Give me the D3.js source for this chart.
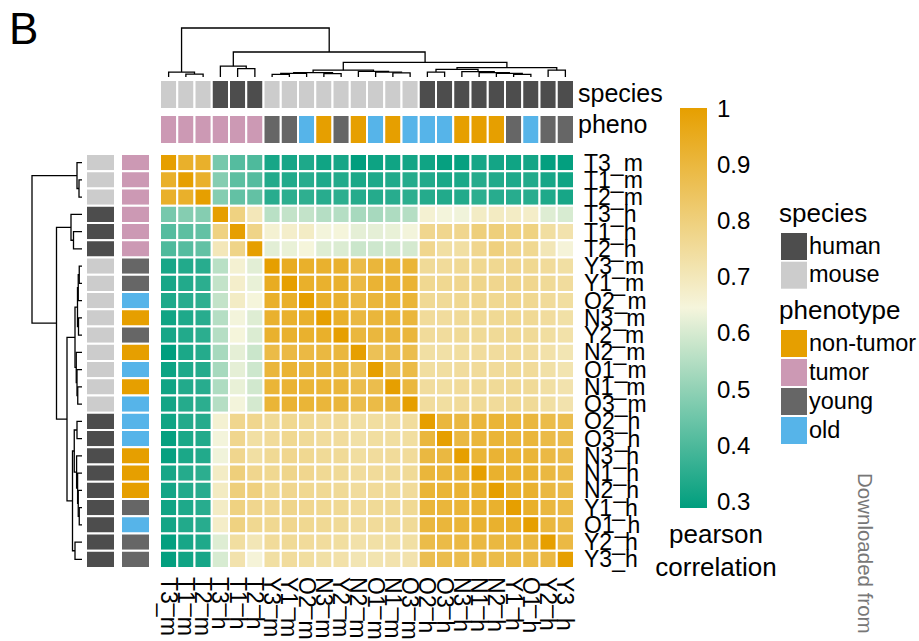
<!DOCTYPE html>
<html><head><meta charset="utf-8">
<script src="https://cdn.jsdelivr.net/npm/d3@7"></script>
<style>
body{margin:0;background:#fff}
svg{display:block}
text{font-family:"Liberation Sans",Arial,Helvetica,sans-serif}
</style>
</head><body>
<svg id="chart" width="919" height="641"></svg>
<script>
// ---------- data ----------
const samples = ["T3_m","T1_m","T2_m","T3_h","T1_h","T2_h","Y3_m","Y1_m","O2_m","N3_m","Y2_m","N2_m","O1_m","N1_m","O3_m","O2_h","O3_h","N3_h","N1_h","N2_h","Y1_h","O1_h","Y2_h","Y3_h"];
const species = ["mouse","mouse","mouse","human","human","human","mouse","mouse","mouse","mouse","mouse","mouse","mouse","mouse","mouse","human","human","human","human","human","human","human","human","human"];
const pheno = ["tumor","tumor","tumor","tumor","tumor","tumor","young","young","old","non-tumor","young","non-tumor","old","non-tumor","old","old","old","non-tumor","non-tumor","non-tumor","young","old","young","young"];

// pearson correlation, rows/cols in the order of `samples`
const corr = [
 [1,.93,.93,.46,.41,.40,.32,.32,.33,.31,.32,.286,.305,.31,.315,.31,.295,.295,.32,.315,.31,.315,.29,.29],
 [.93,1,.93,.48,.42,.41,.335,.335,.345,.33,.335,.325,.33,.335,.34,.335,.325,.325,.34,.335,.33,.335,.32,.31],
 [.93,.93,1,.48,.43,.43,.345,.35,.355,.345,.35,.34,.34,.345,.35,.34,.335,.335,.35,.345,.345,.345,.33,.32],
 [.46,.48,.48,1,.79,.70,.555,.57,.57,.55,.55,.53,.53,.54,.55,.66,.64,.635,.68,.685,.68,.675,.61,.60],
 [.41,.42,.43,.79,1,.78,.66,.67,.68,.64,.645,.62,.62,.625,.64,.77,.77,.77,.80,.80,.79,.79,.74,.72],
 [.40,.41,.43,.70,.78,1,.615,.625,.645,.61,.605,.58,.585,.59,.595,.77,.735,.735,.77,.795,.77,.765,.705,.65],
 [.32,.335,.345,.555,.66,.615,1,.945,.93,.925,.925,.885,.905,.91,.91,.755,.75,.76,.765,.765,.77,.765,.75,.735],
 [.32,.335,.35,.57,.67,.625,.945,1,.93,.925,.925,.89,.915,.915,.915,.765,.765,.77,.775,.77,.775,.77,.755,.745],
 [.33,.345,.355,.57,.68,.645,.93,.93,1,.93,.925,.89,.905,.91,.91,.76,.755,.765,.77,.765,.77,.765,.75,.74],
 [.31,.33,.345,.55,.64,.61,.925,.925,.93,1,.93,.895,.905,.91,.905,.75,.745,.755,.76,.76,.765,.76,.745,.73],
 [.32,.335,.35,.55,.645,.605,.925,.925,.925,.93,1,.90,.90,.905,.905,.75,.745,.755,.755,.755,.76,.755,.74,.725],
 [.286,.325,.34,.53,.62,.58,.885,.89,.89,.895,.90,1,.86,.875,.875,.735,.73,.74,.745,.745,.75,.745,.725,.71],
 [.305,.33,.34,.53,.62,.585,.905,.915,.905,.905,.90,.86,1,.875,.885,.74,.74,.745,.75,.75,.755,.75,.73,.715],
 [.31,.335,.345,.54,.625,.59,.91,.915,.91,.91,.905,.875,.875,1,.90,.745,.74,.75,.755,.755,.76,.755,.735,.72],
 [.315,.34,.35,.55,.64,.595,.91,.915,.91,.905,.905,.875,.885,.90,1,.745,.74,.75,.755,.75,.76,.755,.735,.72],
 [.31,.335,.34,.66,.77,.77,.755,.765,.76,.75,.75,.735,.74,.745,.745,1,.90,.895,.905,.91,.905,.90,.88,.87],
 [.295,.325,.335,.64,.77,.735,.75,.765,.755,.745,.745,.73,.74,.74,.74,.90,1,.895,.905,.91,.905,.905,.885,.875],
 [.295,.325,.335,.635,.77,.735,.76,.77,.765,.755,.755,.74,.745,.75,.75,.895,.895,1,.91,.915,.91,.91,.89,.875],
 [.32,.34,.35,.68,.80,.77,.765,.775,.77,.76,.755,.745,.75,.755,.755,.905,.905,.91,1,.925,.92,.92,.895,.88],
 [.315,.335,.345,.685,.80,.795,.765,.77,.765,.76,.755,.745,.75,.755,.75,.91,.91,.915,.925,1,.925,.925,.895,.88],
 [.31,.33,.345,.68,.79,.77,.77,.775,.77,.765,.76,.75,.755,.76,.76,.905,.905,.91,.92,.925,1,.93,.90,.885],
 [.315,.335,.345,.675,.79,.765,.765,.77,.765,.76,.755,.745,.75,.755,.755,.90,.905,.91,.92,.925,.93,1,.90,.885],
 [.29,.32,.33,.61,.74,.705,.75,.755,.75,.745,.74,.725,.73,.735,.735,.88,.885,.89,.895,.895,.90,.90,1,.89],
 [.29,.31,.32,.60,.72,.65,.735,.745,.74,.73,.725,.71,.715,.72,.72,.87,.875,.875,.88,.88,.885,.885,.89,1]
];

// hierarchical clustering: [left, right, height]; numbers refer to earlier merges
const merges = [
 ["T1_m","T2_m",0.06], ["T3_m",0,0.10],
 ["T1_h","T2_h",0.17], ["T3_h",2,0.22],
 ["Y3_m","Y1_m",0.055], [4,"O2_m",0.075], ["N3_m","Y2_m",0.07], [5,6,0.09],
 ["N1_m","O3_m",0.085], ["O1_m",8,0.10], ["N2_m",9,0.115], [7,10,0.14],
 ["O2_h","O3_h",0.10], ["Y1_h","O1_h",0.055], ["N2_h",13,0.075], ["N1_h",14,0.088],
 ["N3_h",15,0.108], [12,16,0.155], ["Y2_h","Y3_h",0.14], [17,18,0.19],
 [11,19,0.30], [3,20,0.51], [1,21,1.0]
];

const corrRange = [0.286, 1];
const legendTicks = [1, 0.9, 0.8, 0.7, 0.6, 0.5, 0.4, 0.3];
const speciesLevels = ["human","mouse"];
const phenoLevels = ["non-tumor","tumor","young","old"];

// ---------- styles ----------
const speciesColors = {human:"#4D4D4D", mouse:"#CCCCCC"};
const phenoColors = {"non-tumor":"#E69F00", tumor:"#CC99B4", young:"#666666", old:"#56B4E9"};
const color = d3.scaleLinear()
  .domain([corrRange[0], (corrRange[0]+corrRange[1])/2, corrRange[1]])
  .range(["#009E7E","#F5F5DC","#E69F00"])
  .interpolate(d3.interpolateRgb);

const svg = d3.select("#chart");
const x = d3.scaleBand().domain(samples).range([160, 574]);
const y = d3.scaleBand().domain(samples).range([154, 568]);
const bw = x.bandwidth();

// heatmap cells
const cells = [];
corr.forEach((row, i) => row.forEach((v, j) => cells.push({r: samples[i], c: samples[j], v})));
svg.append("g").selectAll("rect").data(cells).join("rect")
  .attr("x", d => x(d.c)).attr("y", d => y(d.r))
  .attr("width", bw).attr("height", bw)
  .attr("fill", d => color(d.v))
  .attr("stroke", "#fff").attr("stroke-width", 2);

// annotation tracks (top)
const topTracks = [{vals: species, cols: speciesColors, y0: 80, name: "species", base: 102},
                   {vals: pheno, cols: phenoColors, y0: 115, name: "pheno", base: 133}];
topTracks.forEach(t => {
  svg.append("g").selectAll("rect").data(samples).join("rect")
    .attr("x", d => x(d)).attr("y", t.y0).attr("width", bw).attr("height", 29)
    .attr("fill", (d, i) => t.cols[t.vals[i]])
    .attr("stroke", "#fff").attr("stroke-width", 2);
  svg.append("text").attr("x", 578).attr("y", t.base).attr("font-size", 25).text(t.name);
});
// annotation tracks (left)
const leftTracks = [{vals: species, cols: speciesColors, x0: 86}, {vals: pheno, cols: phenoColors, x0: 121}];
leftTracks.forEach(t => {
  svg.append("g").selectAll("rect").data(samples).join("rect")
    .attr("y", d => y(d)).attr("x", t.x0).attr("height", bw).attr("width", 29)
    .attr("fill", (d, i) => t.cols[t.vals[i]])
    .attr("stroke", "#fff").attr("stroke-width", 2);
});

// dendrograms
const hTop = d3.scaleLinear().domain([0, 1]).range([77, 28]);
const hLeft = d3.scaleLinear().domain([0, 1]).range([82, 32]);
const nodes = [];
const pos = (ref, sc) => typeof ref === "string" ? {p: sc(ref) + sc.bandwidth()/2, h: 0} : nodes[ref];
function buildPaths(sc) {
  nodes.length = 0;
  const segs = [];
  merges.forEach(m => {
    const a = pos(m[0], sc), b = pos(m[1], sc);
    nodes.push({p: (a.p + b.p) / 2, h: m[2]});
    segs.push({a, b, h: m[2]});
  });
  return segs;
}
const topSegs = buildPaths(x);
svg.append("g").selectAll("path").data(topSegs).join("path")
  .attr("d", s => `M${s.a.p},${hTop(s.a.h)}V${hTop(s.h)}H${s.b.p}V${hTop(s.b.h)}`)
  .attr("fill", "none").attr("stroke", "#000").attr("stroke-width", 1.3);
const leftSegs = buildPaths(y);
svg.append("g").selectAll("path").data(leftSegs).join("path")
  .attr("d", s => `M${hLeft(s.a.h)},${s.a.p}H${hLeft(s.h)}V${s.b.p}H${hLeft(s.b.h)}`)
  .attr("fill", "none").attr("stroke", "#000").attr("stroke-width", 1.3);

// row labels
svg.append("g").selectAll("text").data(samples).join("text")
  .attr("x", 584).attr("y", d => y(d) + bw/2).attr("dy", "0.35em")
  .attr("font-size", 23).text(d => d);
// column labels
svg.append("g").selectAll("text").data(samples).join("text")
  .attr("transform", d => `translate(${x(d) + bw/2},577) rotate(90)`)
  .attr("dy", "0.35em").attr("font-size", 23).text(d => d);

// colour legend
const cb = d3.scaleLinear().domain(corrRange).range([508, 108]);
const defs = svg.append("defs");
const grad = defs.append("linearGradient").attr("id", "cbar")
  .attr("x1", 0).attr("y1", 1).attr("x2", 0).attr("y2", 0);
d3.range(0, 1.0001, 0.05).forEach(t => {
  const v = corrRange[0] + t * (corrRange[1] - corrRange[0]);
  grad.append("stop").attr("offset", t).attr("stop-color", color(v));
});
svg.append("rect").attr("x", 680).attr("y", cb(corrRange[1])).attr("width", 27)
  .attr("height", cb(corrRange[0]) - cb(corrRange[1])).attr("fill", "url(#cbar)");
svg.append("g").selectAll("text").data(legendTicks).join("text")
  .attr("x", 717).attr("y", d => cb(d) + 1).attr("dy", "0.35em")
  .attr("font-size", 24).text(d => d3.format("~g")(d));
svg.append("text").attr("x", 716).attr("y", 543).attr("text-anchor", "middle").attr("font-size", 26).text("pearson");
svg.append("text").attr("x", 716).attr("y", 576).attr("text-anchor", "middle").attr("font-size", 26).text("correlation");

// categorical legends
const legends = [{title: "species", base: 222, y0: 233, step: 28.7, levels: speciesLevels, cols: speciesColors},
                 {title: "phenotype", base: 319, y0: 330, step: 29, levels: phenoLevels, cols: phenoColors}];
legends.forEach(L => {
  svg.append("text").attr("x", 779).attr("y", L.base).attr("font-size", 26).text(L.title);
  const g = svg.append("g");
  g.selectAll("rect").data(L.levels).join("rect")
    .attr("x", 781).attr("y", (d, i) => L.y0 + i * L.step).attr("width", 26).attr("height", 27)
    .attr("fill", d => L.cols[d]);
  g.selectAll("text").data(L.levels).join("text")
    .attr("x", 809).attr("y", (d, i) => L.y0 + i * L.step + 13.5).attr("dy", "0.3em")
    .attr("font-size", 23.5).text(d => d);
});

// panel letter and side note
svg.append("text").attr("x", 9).attr("y", 44).attr("font-size", 44).text("B");
svg.append("text").attr("transform", "translate(858,473) rotate(90)")
  .attr("font-size", 20.5).attr("fill", "#777").text("Downloaded from");
</script>
</body></html>
